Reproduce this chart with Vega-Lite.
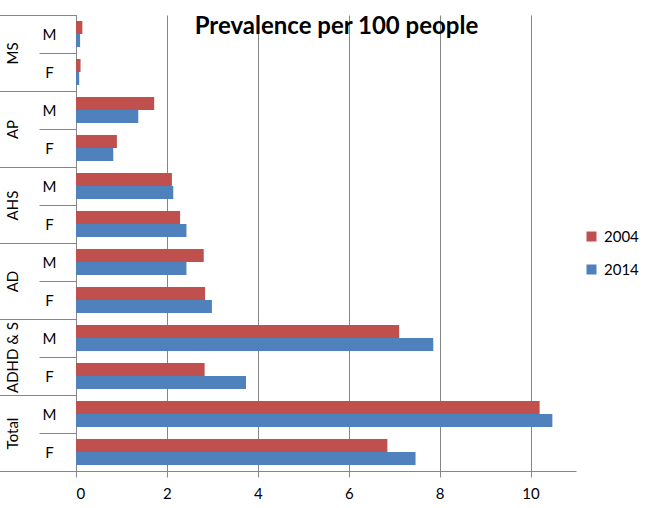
{
  "$schema": "https://vega.github.io/schema/vega-lite/v6.json",
  "width": 500,
  "height": 456,
  "padding": {"left": -2, "top": 8, "right": 10, "bottom": 5},
  "background": "white",
  "layer": [
    {
      "data": {
        "values": [
          {"group": "MS", "sex": "M", "key": "MS|M", "year": "2004", "value": 0.14},
          {"group": "MS", "sex": "M", "key": "MS|M", "year": "2014", "value": 0.09},
          {"group": "MS", "sex": "F", "key": "MS|F", "year": "2004", "value": 0.10},
          {"group": "MS", "sex": "F", "key": "MS|F", "year": "2014", "value": 0.07},
          {"group": "AP", "sex": "M", "key": "AP|M", "year": "2004", "value": 1.72},
          {"group": "AP", "sex": "M", "key": "AP|M", "year": "2014", "value": 1.37},
          {"group": "AP", "sex": "F", "key": "AP|F", "year": "2004", "value": 0.90},
          {"group": "AP", "sex": "F", "key": "AP|F", "year": "2014", "value": 0.82},
          {"group": "AHS", "sex": "M", "key": "AHS|M", "year": "2004", "value": 2.11},
          {"group": "AHS", "sex": "M", "key": "AHS|M", "year": "2014", "value": 2.14},
          {"group": "AHS", "sex": "F", "key": "AHS|F", "year": "2004", "value": 2.29},
          {"group": "AHS", "sex": "F", "key": "AHS|F", "year": "2014", "value": 2.43},
          {"group": "AD", "sex": "M", "key": "AD|M", "year": "2004", "value": 2.81},
          {"group": "AD", "sex": "M", "key": "AD|M", "year": "2014", "value": 2.43},
          {"group": "AD", "sex": "F", "key": "AD|F", "year": "2004", "value": 2.84},
          {"group": "AD", "sex": "F", "key": "AD|F", "year": "2014", "value": 2.99},
          {"group": "ADHD & S", "sex": "M", "key": "ADHD & S|M", "year": "2004", "value": 7.11},
          {"group": "ADHD & S", "sex": "M", "key": "ADHD & S|M", "year": "2014", "value": 7.86},
          {"group": "ADHD & S", "sex": "F", "key": "ADHD & S|F", "year": "2004", "value": 2.83},
          {"group": "ADHD & S", "sex": "F", "key": "ADHD & S|F", "year": "2014", "value": 3.74},
          {"group": "Total", "sex": "M", "key": "Total|M", "year": "2004", "value": 10.20},
          {"group": "Total", "sex": "M", "key": "Total|M", "year": "2014", "value": 10.48},
          {"group": "Total", "sex": "F", "key": "Total|F", "year": "2004", "value": 6.85},
          {"group": "Total", "sex": "F", "key": "Total|F", "year": "2014", "value": 7.47}
        ]
      },
      "mark": {"type": "bar"},
      "encoding": {
        "y": {
          "field": "key",
          "type": "nominal",
          "scale": {
            "domain": ["MS|M", "MS|F", "AP|M", "AP|F", "AHS|M", "AHS|F", "AD|M", "AD|F", "ADHD & S|M", "ADHD & S|F", "Total|M", "Total|F"],
            "paddingInner": 0,
            "paddingOuter": 0
          },
          "axis": {
            "title": null,
            "orient": "left",
            "labelExpr": "split(datum.label, '|')[1]",
            "tickBand": "extent",
            "tickSize": 37,
            "tickColor": "#868686",
            "domainColor": "#868686",
            "labelAlign": "center",
            "labelBaseline": "middle",
            "labelPadding": -10,
            "labelFont": "Lato",
            "labelFontSize": 15,
            "labelColor": "black",
            "grid": false
          }
        },
        "yOffset": {
          "field": "year",
          "type": "nominal",
          "scale": {"domain": ["2004", "2014"], "paddingInner": 0, "paddingOuter": 0.46}
        },
        "x": {
          "field": "value",
          "type": "quantitative",
          "scale": {"domain": [0, 11], "nice": false},
          "axis": {
            "title": null,
            "values": [0, 2, 4, 6, 8, 10],
            "grid": true,
            "gridColor": "#868686",
            "gridOpacity": 1,
            "tickSize": 6,
            "tickColor": "#868686",
            "domainColor": "#868686",
            "labelPadding": 9,
            "labelFont": "Lato",
            "labelFontSize": 15,
            "labelColor": "black"
          }
        },
        "color": {
          "field": "year",
          "type": "nominal",
          "scale": {"domain": ["2004", "2014"], "range": ["#C0504D", "#4F81BD"]},
          "legend": {
            "title": null,
            "orient": "none",
            "legendX": 508,
            "legendY": 214,
            "symbolType": "square",
            "symbolSize": 100,
            "symbolStrokeWidth": 0,
            "labelFont": "Lato",
            "labelFontSize": 15,
            "labelColor": "black",
            "labelOffset": 5,
            "rowPadding": 17
          }
        }
      }
    },
    {
      "data": {"values": [{"group": "MS", "title": "Prevalence per 100 people"}]},
      "mark": {
        "type": "text",
        "font": "Lato",
        "fontSize": 24,
        "fontWeight": "bold",
        "color": "black",
        "align": "center",
        "baseline": "alphabetic"
      },
      "encoding": {
        "text": {"field": "title"},
        "x": {"datum": 5.73},
        "y": {
          "field": "group",
          "type": "nominal",
          "bandPosition": 0.245,
          "scale": {
            "domain": ["MS", "AP", "AHS", "AD", "ADHD & S", "Total"],
            "paddingInner": 0,
            "paddingOuter": 0
          },
          "axis": {
            "title": null,
            "orient": "left",
            "tickBand": "extent",
            "tickSize": 77,
            "tickColor": "#868686",
            "domainColor": "#868686",
            "labelAngle": -90,
            "labelAlign": "center",
            "labelBaseline": "middle",
            "labelPadding": -13,
            "labelFont": "Lato",
            "labelFontSize": 15,
            "labelColor": "black",
            "grid": false
          }
        }
      }
    }
  ],
  "resolve": {"scale": {"y": "independent"}, "axis": {"y": "independent"}},
  "config": {"view": {"stroke": null}}
}
